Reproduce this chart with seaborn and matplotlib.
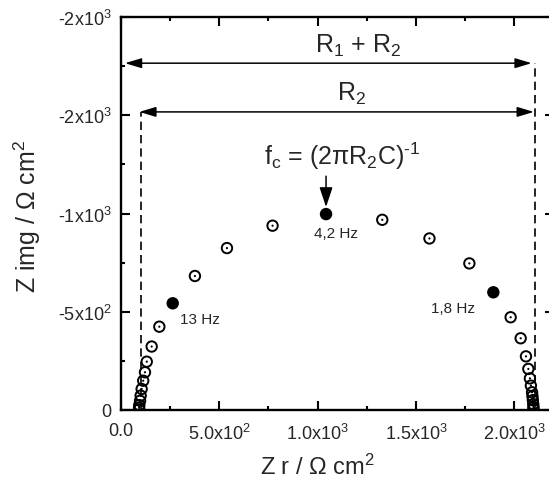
import matplotlib
matplotlib.use("Agg")
import matplotlib.pyplot as plt
import seaborn as sns
import pandas as pd
from matplotlib.ticker import FixedLocator, FixedFormatter, MultipleLocator

# Nyquist data (ohm cm2)
z_real = [92, 92, 93, 97, 100, 105, 113, 122, 131, 156, 195, 376, 539, 771,
          1329, 1569, 1772, 1982, 2033, 2060, 2072, 2080, 2085, 2091, 2093,
          2095, 2097, 2098, 2098]
z_img = [-3, -12, -25, -47, -73, -107, -149, -192, -246, -323, -424, -682,
         -824, -938, -968, -873, -746, -472, -365, -273, -209, -161, -124,
         -90, -70, -50, -30, -15, -5]

# marked frequencies
freq_real = [263, 1043, 1894]
freq_img = [-543, -997, -599]
freq_labels = ["13 Hz", "4,2 Hz", "1,8 Hz"]

# resistances
r1 = 100
r1_r2 = 2105

x_ticks = [0, 500, 1000, 1500, 2000]
x_labels = ["0.0", r"5.0x10$\mathregular{^2}$", r"1.0x10$\mathregular{^3}$",
            r"1.5x10$\mathregular{^3}$", r"2.0x10$\mathregular{^3}$"]
y_ticks = [0, -500, -1000, -1500, -2000]
y_labels = ["0", r"-5x10$\mathregular{^2}$", r"-1x10$\mathregular{^3}$",
            r"-2x10$\mathregular{^3}$", r"-2x10$\mathregular{^3}$"]

sns.set_style("ticks")
plt.rcParams["font.family"] = ["Liberation Sans", "DejaVu Sans"]
plt.rcParams["mathtext.fontset"] = "custom"
plt.rcParams["mathtext.rm"] = "Liberation Sans"
plt.rcParams["mathtext.it"] = "Liberation Sans"

df = pd.DataFrame({"zr": z_real, "zi": z_img})
df_f = pd.DataFrame({"zr": freq_real, "zi": freq_img})

fig = plt.figure(figsize=(5.49, 4.89), dpi=100)
ax = fig.add_axes([121 / 549, 78 / 489, 432.5 / 549, 393 / 489])

# open circles with a dot in the middle
sns.scatterplot(data=df, x="zr", y="zi", ax=ax, marker="o", s=56,
                facecolor="none", edgecolor="black", linewidth=1.4, zorder=3)
sns.scatterplot(data=df, x="zr", y="zi", ax=ax, marker="o", s=2.5,
                color="black", edgecolor="none", zorder=4)
sns.scatterplot(data=df_f, x="zr", y="zi", ax=ax, marker="o", s=80,
                color="black", edgecolor="none", zorder=4)

ax.set_xlim(0, 2200)
ax.set_ylim(0, -2000)

# dashed guides
ax.plot([r1, r1], [0, -1517], color="black", lw=1.2, dashes=(5, 3))
ax.plot([r1_r2, r1_r2], [0, -1768], color="black", lw=1.2, dashes=(5, 3))

arrow = dict(arrowstyle="<|-|>,head_length=0.5,head_width=0.15",
             color="black", lw=1.1, shrinkA=0, shrinkB=0, mutation_scale=20)
ax.annotate("", xy=(20, -1765), xytext=(2089, -1765), arrowprops=arrow)
ax.annotate("", xy=(93, -1517), xytext=(2100, -1517), arrowprops=arrow)
ax.text(1205, -1821, r"R$\mathregular{_1}$ + R$\mathregular{_2}$",
        ha="center", va="baseline", fontsize=18)
ax.text(1175, -1578, r"R$\mathregular{_2}$", ha="center", va="baseline",
        fontsize=18)

ax.text(1125, -1251,
        r"f$\mathregular{_c}$ = (2πR$\mathregular{_2}$C)$\mathregular{^{‐1}}$",
        ha="center", va="baseline", fontsize=18)
ax.annotate("", xy=(1043, -1033), xytext=(1043, -1190),
            arrowprops=dict(arrowstyle="-|>,head_length=0.6,head_width=0.2",
                            color="black", lw=1.1, shrinkA=0, shrinkB=0,
                            mutation_scale=20))

ax.text(300, -443, freq_labels[0], ha="left", va="baseline", fontsize=11)
ax.text(1094, -880, freq_labels[1], ha="center", va="baseline", fontsize=11)
ax.text(1691, -498, freq_labels[2], ha="center", va="baseline", fontsize=11)

ax.xaxis.set_major_locator(FixedLocator(x_ticks))
ax.xaxis.set_major_formatter(FixedFormatter(x_labels))
ax.xaxis.set_minor_locator(MultipleLocator(250))
ax.yaxis.set_major_locator(FixedLocator(y_ticks))
ax.yaxis.set_major_formatter(FixedFormatter(y_labels))
ax.yaxis.set_minor_locator(MultipleLocator(250))

ax.tick_params(which="both", direction="in", top=True, right=True,
               width=1.5, labelsize=13, color="black")
ax.tick_params(which="major", length=6.5, pad=7)
ax.tick_params(axis="x", which="major", pad=9)
ax.tick_params(which="minor", length=3)
for sp in ax.spines.values():
    sp.set_linewidth(1.7)
    sp.set_color("black")

ax.set_xlabel(r"Z r / Ω cm$\mathregular{^2}$", fontsize=17)
ax.set_ylabel(r"Z img / Ω cm$\mathregular{^2}$", fontsize=18)
ax.xaxis.set_label_coords(196 / 432.5, -44 / 393)
ax.yaxis.set_label_coords(-78 / 432.5, 195 / 393)

fig.savefig("out.png", dpi=100)
